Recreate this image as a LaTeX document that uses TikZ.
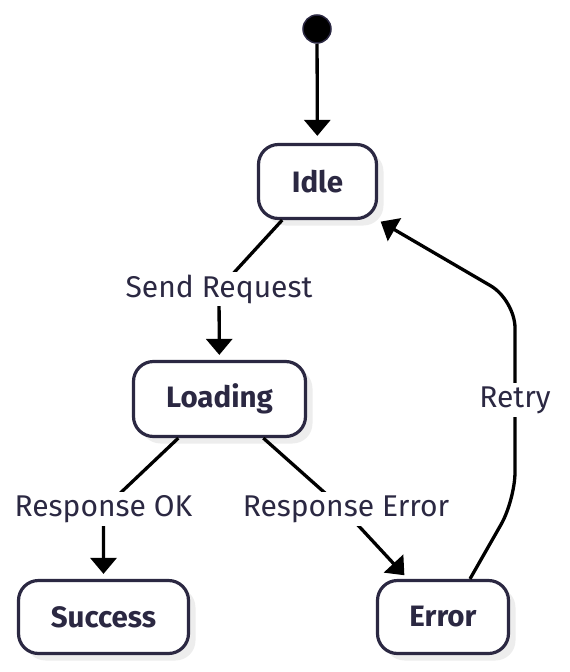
\documentclass[tikz,border=0pt]{standalone}
\usepackage{fontspec}
\setmainfont{Fira Sans}
\usetikzlibrary{arrows.meta,shadows,calc}
\definecolor{navy}{HTML}{2B2842}
\begin{document}
\begin{tikzpicture}[x=1pt,y=-1pt,
  state/.style={draw=navy, line width=3.2pt, rounded corners=20pt, fill=white,
    inner sep=0pt, text=navy, font=\fontsize{29.5}{33}\selectfont\bfseries,
    drop shadow={shadow xshift=7pt, shadow yshift=-7pt, fill=black!7, opacity=1}},
  edge/.style={line width=3.3pt, draw=black, -{Triangle[length=16pt,width=26pt]}, shorten >=5pt},
  lbl/.style={fill=white, inner sep=3pt, text=navy, font=\fontsize{30}{34}\selectfont},
  startdot/.style={circle, fill=black, draw=navy, line width=1.5pt, minimum size=28pt, inner sep=0pt}]
\useasboundingbox (0,0) rectangle (570,672);
\node[startdot] (start) at (317,29) {};
\node[state, minimum width=118pt, minimum height=74pt] (idle) at (317.5,181.5) {Idle};
\node[state, minimum width=172pt, minimum height=75pt] (loading) at (219.5,399) {Loading};
\node[state, minimum width=170pt, minimum height=73pt] (success) at (103.5,617) {Success};
\node[state, minimum width=131pt, minimum height=73pt] (error) at (443,617) {Error};
\coordinate (l1) at (219,289);
\coordinate (l2) at (103.5,509);
\coordinate (l3) at (343,509);
\coordinate (r1) at (515,500);
\coordinate (r2) at (515,300);
\draw[edge, shorten >=7pt] (start) -- (idle);
\draw[edge] (idle) -- (l1) -- (loading);
\draw[edge] (loading) -- (l2) -- (success);
\draw[edge] (loading) -- (l3) -- (error);
\draw[edge, rounded corners=28pt, shorten >=3pt] ($(error.north)+(27,0)$) -- (r1) -- (r2) -- (idle.south east);
\node[lbl] (t1) at (l1) {Send Request};
\node[lbl] (t2) at (l2) {Response OK};
\node[lbl] (t3) at (346,509) {Response Error};
\node[lbl] (t4) at (515,400) {Retry};
\end{tikzpicture}
\end{document}
